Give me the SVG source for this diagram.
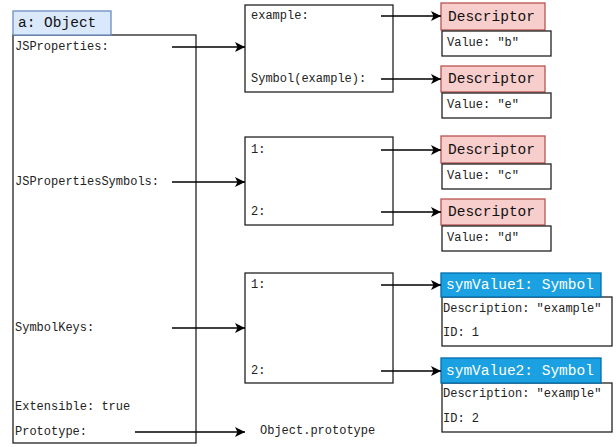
<svg xmlns="http://www.w3.org/2000/svg" width="616" height="447" viewBox="0 0 616 447">
<style>
.t{font-family:"Liberation Mono","DejaVu Sans Mono",monospace;font-size:12px;fill:#222;dominant-baseline:central}
.h{font-family:"Liberation Mono","DejaVu Sans Mono",monospace;font-size:14.5px;fill:#111;dominant-baseline:central}
.hw{font-family:"Liberation Mono","DejaVu Sans Mono",monospace;font-size:14.5px;fill:#fff;dominant-baseline:central}
.box{fill:#fff;stroke:#222;stroke-width:1.3}
.obj{fill:#dae8fc;stroke:#6c8ebf;stroke-width:1.3}
.desc{fill:#f8cecc;stroke:#b85450;stroke-width:1.3}
.sym{fill:#1ba1e2;stroke:#006eaf;stroke-width:1.3}
.c{stroke:#000;stroke-width:1.3;fill:none;marker-end:url(#arr)}
</style>
<defs>
<marker id="arr" viewBox="0 0 10 10" refX="10" refY="5" markerWidth="10" markerHeight="10" markerUnits="userSpaceOnUse" orient="auto">
<path d="M0,0 L10,5 L0,10 L2.5,5 Z" fill="#000"/>
</marker>
</defs>
<g id="obj-a">
<rect class="box" x="13" y="35" width="183" height="408"/>
<rect class="obj" x="13" y="11" width="98" height="24"/>
<text class="h" x="18" y="23">a: Object</text>
<text class="t" x="15" y="47">JSProperties:</text>
<text class="t" x="15" y="182">JSPropertiesSymbols:</text>
<text class="t" x="15" y="328">SymbolKeys:</text>
<text class="t" x="15" y="407">Extensible: true</text>
<text class="t" x="15" y="432">Prototype:</text>
</g>
<g id="props">
<rect class="box" x="245" y="5" width="148" height="87"/>
<text class="t" x="251" y="16">example:</text>
<text class="t" x="251" y="79">Symbol(example):</text>
</g>
<g id="propsyms">
<rect class="box" x="245" y="137" width="148" height="88"/>
<text class="t" x="251" y="150">1:</text>
<text class="t" x="251" y="212">2:</text>
</g>
<g id="symkeys">
<rect class="box" x="245" y="273" width="148" height="110"/>
<text class="t" x="251" y="285">1:</text>
<text class="t" x="251" y="371">2:</text>
</g>
<g id="desc-b">
<rect class="desc" x="441" y="3" width="104" height="27"/>
<text class="h" x="448" y="17">Descriptor</text>
<rect class="box" x="442" y="31" width="109" height="25"/>
<text class="t" x="447" y="43">Value: "b"</text>
</g>
<g id="desc-e">
<rect class="desc" x="441" y="66" width="104" height="26"/>
<text class="h" x="448" y="79">Descriptor</text>
<rect class="box" x="442" y="93" width="109" height="25"/>
<text class="t" x="447" y="105">Value: "e"</text>
</g>
<g id="desc-c">
<rect class="desc" x="441" y="136" width="104" height="27"/>
<text class="h" x="448" y="150">Descriptor</text>
<rect class="box" x="442" y="164" width="109" height="25"/>
<text class="t" x="447" y="176">Value: "c"</text>
</g>
<g id="desc-d">
<rect class="desc" x="441" y="199" width="104" height="26"/>
<text class="h" x="448" y="212">Descriptor</text>
<rect class="box" x="442" y="226" width="109" height="25"/>
<text class="t" x="447" y="238">Value: "d"</text>
</g>
<g id="sym1">
<rect class="box" x="442" y="297" width="170" height="49"/>
<rect class="sym" x="441" y="273" width="160" height="24"/>
<text class="hw" x="446" y="285">symValue1: Symbol</text>
<text class="t" x="443" y="309">Description: "example"</text>
<text class="t" x="443" y="333">ID: 1</text>
</g>
<g id="sym2">
<rect class="box" x="442" y="383" width="170" height="49"/>
<rect class="sym" x="441" y="358" width="160" height="25"/>
<text class="hw" x="446" y="371">symValue2: Symbol</text>
<text class="t" x="443" y="394">Description: "example"</text>
<text class="t" x="443" y="419">ID: 2</text>
</g>
<g id="proto">
<text class="t" x="260" y="431">Object.prototype</text>
</g>
<g id="connectors">
<line class="c" x1="172" y1="47" x2="245" y2="47"/>
<line class="c" x1="172" y1="182" x2="245" y2="182"/>
<line class="c" x1="172" y1="328" x2="245" y2="328"/>
<line class="c" x1="135" y1="432" x2="245" y2="432"/>
<line class="c" x1="381" y1="16" x2="441" y2="16"/>
<line class="c" x1="381" y1="79" x2="441" y2="79"/>
<line class="c" x1="381" y1="150" x2="441" y2="150"/>
<line class="c" x1="381" y1="212" x2="441" y2="212"/>
<line class="c" x1="381" y1="285" x2="441" y2="285"/>
<line class="c" x1="381" y1="371" x2="441" y2="371"/>
</g>
</svg>
